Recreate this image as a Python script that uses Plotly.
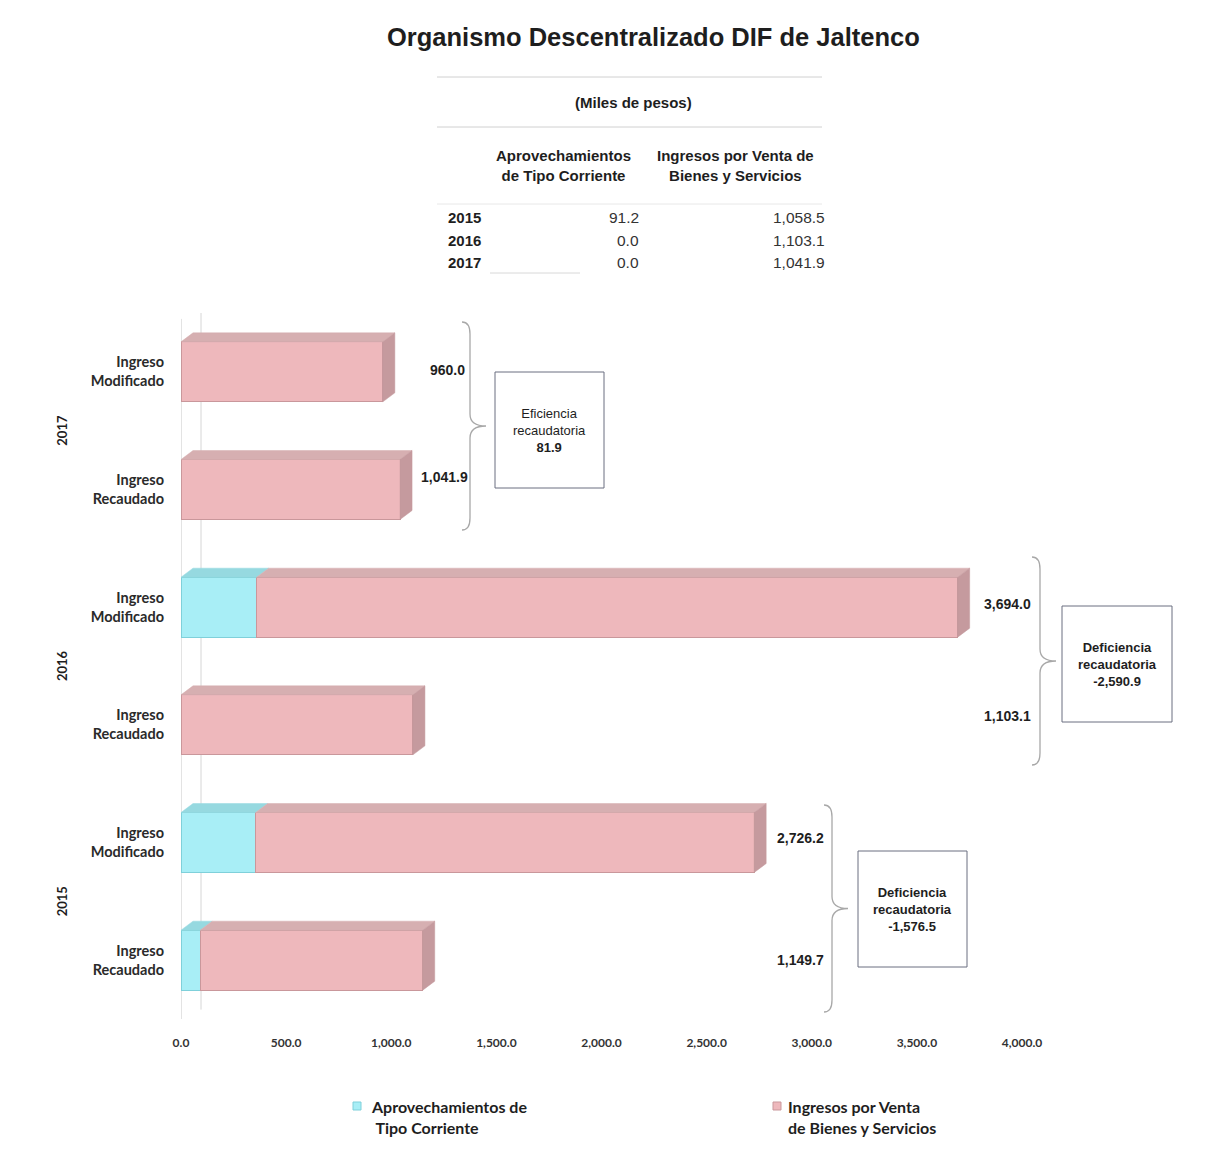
import plotly.graph_objects as go

# ---------------- data ----------------
bar_labels = ["Ingreso<br>Recaudado", "Ingreso<br>Modificado",
              "Ingreso<br>Recaudado", "Ingreso<br>Modificado",
              "Ingreso<br>Recaudado", "Ingreso<br>Modificado"]
bar_years = ["2015", "2015", "2016", "2016", "2017", "2017"]
aprovechamientos = [91.2, 355.0, 0.0, 360.0, 0.0, 0.0]
ingresos_venta = [1058.5, 2371.2, 1103.1, 3334.0, 1041.9, 960.0]
total_labels = ["1,149.7", "2,726.2", "1,103.1", "3,694.0", "1,041.9", "960.0"]

group_years = ["2015", "2016", "2017"]
result_labels = ["<b>Deficiencia<br>recaudatoria<br>-1,576.5</b>",
                 "<b>Deficiencia<br>recaudatoria<br>-2,590.9</b>",
                 "Eficiencia<br>recaudatoria<br><b>81.9</b>"]

table_years = ["2015", "2016", "2017"]
table_aprov = ["91.2", "0.0", "0.0"]
table_ingresos = ["1,058.5", "1,103.1", "1,041.9"]

series_names = ["Aprovechamientos de<br>&nbsp;Tipo Corriente",
                "Ingresos por Venta<br>de Bienes y Servicios"]

x_ticks = [0, 500, 1000, 1500, 2000, 2500, 3000, 3500, 4000]
x_ticktext = ["0.0", "500.0", "1,000.0", "1,500.0", "2,000.0", "2,500.0",
              "3,000.0", "3,500.0", "4,000.0"]

# ---------------- layout geometry (screen px, page has 8px body margin) ----------------
OFF = 8
W, H = 1207 - 2 * OFF, 1162 - 2 * OFF
PLOT_L, PLOT_R, PLOT_T, PLOT_B = 181, 1195, 313, 1019     # screen coords
ML, MR = PLOT_L - OFF, W - (PLOT_R - OFF)
MT, MB = PLOT_T - OFF, H - (PLOT_B - OFF)
PX_PER_UNIT = 841 / 4000.0
XMAX = (PLOT_R - PLOT_L) / PX_PER_UNIT
PLOT_H = PLOT_B - PLOT_T
PX_PER_CAT = PLOT_H / 6.0


def px2x(px):
    return (px - PLOT_L) / PX_PER_UNIT


def px2paperx(px):
    return (px - PLOT_L) / (PLOT_R - PLOT_L)


def py2papery(py):
    return (PLOT_B - py) / PLOT_H


def Ypx(py):
    return 5.5 - (py - PLOT_T) / PX_PER_CAT


CYAN = "#A8EEF6"
CYAN_LINE = "#7FD0DA"
CYAN_TOP = "#96D9E0"
PINK = "#EEB8BC"
PINK_LINE = "#C9979B"
PINK_TOP = "#D6AFB1"
PINK_SIDE = "#C59A9E"

CAL = "Lato, Calibri, Carlito, sans-serif"
ARIAL = "Liberation Sans, Arial, sans-serif"

ypos = list(range(len(bar_labels)))
BW = 0.51

fig = go.Figure()
fig.add_trace(go.Bar(
    y=ypos, x=aprovechamientos, orientation="h", width=BW,
    name=series_names[0],
    marker=dict(color=CYAN, line=dict(color=CYAN_LINE, width=1)),
    hoverinfo="x"))
fig.add_trace(go.Bar(
    y=ypos, x=ingresos_venta, orientation="h", width=BW,
    name=series_names[1],
    marker=dict(color=PINK, line=dict(color=PINK_LINE, width=1)),
    hoverinfo="x"))

shapes = []
DX = 12 / PX_PER_UNIT
DY = 9 / PX_PER_CAT

# back wall / axis lines
shapes.append(dict(type="line", xref="x", yref="y", x0=0, x1=0, y0=-0.5, y1=5.45,
                   line=dict(color="#C8C8C8", width=1), layer="below"))
shapes.append(dict(type="line", xref="x", yref="y", x0=px2x(201), x1=px2x(201),
                   y0=-0.42, y1=5.5, line=dict(color="#D6D6D6", width=1), layer="below"))

# 3D faces
for i, (a, b) in enumerate(zip(aprovechamientos, ingresos_venta)):
    yt = i + BW / 2
    yb = i - BW / 2
    segs = []
    if a > 0:
        segs.append((0, a, CYAN_TOP))
    segs.append((a, a + b, PINK_TOP))
    for (x0, x1, col) in segs:
        shapes.append(dict(type="path", xref="x", yref="y",
                           path=f"M {x0},{yt} L {x0+DX},{yt+DY} L {x1+DX},{yt+DY} L {x1},{yt} Z",
                           fillcolor=col, line=dict(width=0.5, color=col)))
    xe = a + b
    shapes.append(dict(type="path", xref="x", yref="y",
                       path=f"M {xe},{yt} L {xe+DX},{yt+DY} L {xe+DX},{yb+DY} L {xe},{yb} Z",
                       fillcolor=PINK_SIDE, line=dict(width=0.5, color=PINK_SIDE)))


def brace(xpx, ytop_py, ybot_py, tip=16, curl=8):
    x = px2x(xpx)
    xl = px2x(xpx - curl)
    xt = px2x(xpx + tip)
    ym = (ytop_py + ybot_py) / 2
    p = (f"M {xl},{Ypx(ytop_py)} Q {x},{Ypx(ytop_py)} {x},{Ypx(ytop_py+12)} "
         f"L {x},{Ypx(ym-12)} Q {x},{Ypx(ym)} {xt},{Ypx(ym)} "
         f"Q {x},{Ypx(ym)} {x},{Ypx(ym+12)} L {x},{Ypx(ybot_py-12)} "
         f"Q {x},{Ypx(ybot_py)} {xl},{Ypx(ybot_py)}")
    return dict(type="path", xref="x", yref="y", path=p,
                line=dict(color="#A8A8A8", width=1.3))


# braces and boxes (2015, 2016, 2017), screen px
brace_px = [(832, 805, 1012), (1040, 557, 765), (470, 322, 530)]
box_px = [(858, 967, 851, 967), (1062, 1172, 606, 722), (495, 604, 372, 488)]
for (bx, t, bt) in brace_px:
    shapes.append(brace(bx, t, bt))
for (x0, x1, y0, y1) in box_px:
    shapes.append(dict(type="rect", xref="x", yref="y",
                       x0=px2x(x0), x1=px2x(x1), y0=Ypx(y1), y1=Ypx(y0),
                       line=dict(color="#6A6F80", width=1), fillcolor="white"))

# table lines
for (x0, x1, py, col) in [(437, 822, 77, "#D0D0D0"), (437, 822, 127, "#D0D0D0"),
                          (437, 822, 204, "#E8E8E8"), (490, 580, 273, "#D8D8D8")]:
    shapes.append(dict(type="line", xref="paper", yref="paper",
                       x0=px2paperx(x0), x1=px2paperx(x1),
                       y0=py2papery(py), y1=py2papery(py),
                       line=dict(color=col, width=1)))


def pann(text, px, py, size, family=ARIAL, color="#1e1e1e", xanchor="center", align="center"):
    return dict(text=text, xref="paper", yref="paper", x=px2paperx(px), y=py2papery(py),
                xanchor=xanchor, yanchor="middle", align=align, showarrow=False,
                font=dict(family=family, size=size, color=color))


annotations = []
annotations.append(pann("<b>Organismo Descentralizado DIF de Jaltenco</b>", 653, 37, 25.5))
annotations.append(pann("<b>(Miles de pesos)</b>", 633, 103, 15))
annotations.append(pann("<b>Aprovechamientos<br>de Tipo Corriente</b>", 563, 166, 15))
annotations.append(pann("<b>Ingresos por Venta de<br>Bienes y Servicios</b>", 735, 166, 15))
for k, (yr, a, b) in enumerate(zip(table_years, table_aprov, table_ingresos)):
    py = 218 + k * 22.5
    annotations.append(pann(f"<b>{yr}</b>", 446, py, 15, xanchor="left"))
    annotations.append(pann(a, 641, py, 15.5, color="#333", xanchor="right"))
    annotations.append(pann(b, 827, py, 15.5, color="#333", xanchor="right"))

# value labels near braces
label_px = [(800, 960), (800, 838), (1007, 716), (1007, 604), (444, 477), (447, 370)]
for lab, (lx, ly) in zip(total_labels, label_px):
    annotations.append(dict(text=f"<b>{lab}</b>", xref="x", yref="y",
                            x=px2x(lx), y=Ypx(ly), xanchor="center", yanchor="middle",
                            showarrow=False,
                            font=dict(family=ARIAL, size=14, color="#1e1e1e")))

# box labels
for lab, (x0, x1, y0, y1) in zip(result_labels, box_px):
    annotations.append(dict(text=lab, xref="x", yref="y",
                            x=px2x((x0 + x1) / 2), y=Ypx((y0 + y1) / 2),
                            xanchor="center", yanchor="middle", showarrow=False,
                            font=dict(family=ARIAL, size=13, color="#1e1e1e")))

# year labels
for k, yr in enumerate(group_years):
    annotations.append(dict(text=f"<b>{yr}</b>", xref="paper", yref="y",
                            x=px2paperx(62), y=2 * k + 0.5, textangle=-90,
                            xanchor="center", yanchor="middle", showarrow=False,
                            font=dict(family=CAL, size=13, color="#1e1e1e")))

# legend (drawn as key squares + text)
legend_items = [(357, CYAN, CYAN_LINE, 369), (777, PINK, PINK_LINE, 786)]
for name, (sx, col, lcol, tx) in zip(series_names, legend_items):
    shapes.append(dict(type="rect", xref="paper", yref="paper",
                       x0=px2paperx(sx - 4), x1=px2paperx(sx + 4),
                       y0=py2papery(1110), y1=py2papery(1102),
                       fillcolor=col, line=dict(color=lcol, width=1)))
    annotations.append(pann(f"<b>{name}</b>", tx, 1117, 16, family=CAL,
                            xanchor="left", align="left"))

fig.update_layout(
    width=W, height=H,
    margin=dict(l=ML, r=MR, t=MT, b=MB, autoexpand=False),
    paper_bgcolor="white", plot_bgcolor="white",
    barmode="stack", bargap=0.49,
    showlegend=False,
    xaxis=dict(range=[0, XMAX], tickvals=x_ticks, ticktext=[f"<b>{t}</b>" for t in x_ticktext],
               showgrid=False, zeroline=False, showline=False,
               ticklabelstandoff=15, automargin=False,
               tickfont=dict(family=CAL, size=12, color="#333")),
    yaxis=dict(range=[-0.5, 5.5], tickvals=ypos, ticktext=[f"<b>{t}</b>" for t in bar_labels],
               showgrid=False, zeroline=False, showline=False, ticklabelstandoff=16,
               automargin=False,
               tickfont=dict(family=CAL, size=14.5, color="#2a2a2a")),
    shapes=shapes, annotations=annotations,
)

fig.write_html("out.html")
